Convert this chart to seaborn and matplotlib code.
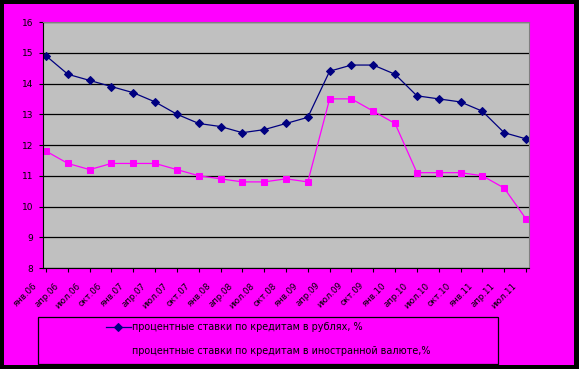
import pandas as pd
import numpy as np
import seaborn as sns
import matplotlib.pyplot as plt
import matplotlib.transforms as mtransforms
from matplotlib.patches import Rectangle

months = ["янв.06", "апр.06", "июл.06", "окт.06", "янв.07", "апр.07", "июл.07", "окт.07",
          "янв.08", "апр.08", "июл.08", "окт.08", "янв.09", "апр.09", "июл.09", "окт.09",
          "янв.10", "апр.10", "июл.10", "окт.10", "янв.11", "апр.11", "июл.11"]
rub_rates = [14.9, 14.3, 14.1, 13.9, 13.7, 13.4, 13.0, 12.7, 12.6, 12.4, 12.5, 12.7,
             12.9, 14.4, 14.6, 14.6, 14.3, 13.6, 13.5, 13.4, 13.1, 12.4, 12.2]
fx_rates = [11.8, 11.4, 11.2, 11.4, 11.4, 11.4, 11.2, 11.0, 10.9, 10.8, 10.8, 10.9,
            10.8, 13.5, 13.5, 13.1, 12.7, 11.1, 11.1, 11.1, 11.0, 10.6, 9.6]
label_rub = "процентные ставки по кредитам в рублях, %"
label_fx = "процентные ставки по кредитам в иностранной валюте,%"

df = pd.DataFrame({"pos": np.arange(len(months)), "rub": rub_rates, "fx": fx_rates})

W, H = 579, 369
fig = plt.figure(figsize=(W / 100, H / 100), dpi=100, facecolor="black")
fig.patches.append(Rectangle((4 / W, 4 / H), (W - 9) / W, (H - 8) / H,
                             transform=fig.transFigure, facecolor="#FF00FF",
                             edgecolor="none", zorder=-10))

ax = fig.add_axes([43 / W, (H - 268) / H, 486 / W, 246 / H])
ax.set_facecolor("#C0C0C0")

sns.lineplot(data=df, x="pos", y="rub", ax=ax, color="#000080", marker="D",
             markersize=4.5, markeredgecolor="#000080", linewidth=0.9, label=label_rub)
sns.lineplot(data=df, x="pos", y="fx", ax=ax, color="#FF00FF", marker="s",
             markersize=5, markeredgecolor="#FF00FF", linewidth=0.9, label=label_fx)

ax.set_xlim(-0.14, len(months) - 1 + 0.14)
ax.set_ylim(8, 16)
ax.set_yticks(range(8, 17))
ax.set_xticks(df["pos"])
ax.set_xticklabels(months, rotation=45, ha="right", rotation_mode="anchor", fontsize=6.2)
ax.tick_params(axis="y", labelsize=6.5, length=3, width=0.8, pad=4)
ax.tick_params(axis="x", length=3, width=0.8, pad=2)
# Excel puts the slanted labels down and to the left of each tick
shift = mtransforms.ScaledTranslation(-14 / 100, -6 / 100, fig.dpi_scale_trans)
for lbl in ax.get_xticklabels():
    lbl.set_transform(lbl.get_transform() + shift)
ax.set_xlabel("")
ax.set_ylabel("")
ax.grid(axis="y", color="black", linewidth=0.9)
ax.set_axisbelow(True)
for side in ["top", "right"]:
    ax.spines[side].set_color("#808080")
for side in ["left", "bottom"]:
    ax.spines[side].set_color("black")

handles, labels = ax.get_legend_handles_labels()
ax.legend(handles, labels, loc="center", bbox_to_anchor=(268 / W, 1 - 339 / H),
          bbox_transform=fig.transFigure, frameon=False, fontsize=6.9,
          labelspacing=1.45, handlelength=2.6, handletextpad=0.1)

fig.patches.append(Rectangle((38 / W, (H - 364) / H), 460 / W, 47 / H,
                             transform=fig.transFigure, facecolor="none",
                             edgecolor="black", linewidth=0.9, zorder=1))

plt.savefig("out.png", dpi=100, facecolor=fig.get_facecolor())
